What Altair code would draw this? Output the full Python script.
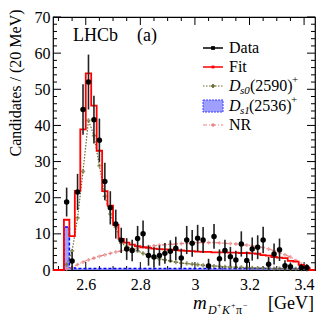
import altair as alt
import pandas as pd

FONT = "Liberation Serif"

# ---- data (20 MeV bins, centres in GeV) ----
centers = [2.53, 2.55, 2.57, 2.59, 2.61, 2.63, 2.65, 2.67, 2.69, 2.71,
           2.73, 2.75, 2.77, 2.79, 2.81, 2.83, 2.85, 2.87, 2.89, 2.91,
           2.93, 2.95, 2.97, 2.99, 3.01, 3.03, 3.05, 3.07, 3.09, 3.11,
           3.13, 3.15, 3.17, 3.19, 3.21, 3.23, 3.25, 3.27, 3.29, 3.31,
           3.33, 3.35, 3.37, 3.39, 3.41]
data_y = [18.8, 2.5, 21.6, 44.4, 52.0, 41.6, 35.9, 24.5, 17.2, 12.7,
          8.2, 5.8, 5.4, 8.7, 10.0, 4.0, 3.6, 4.0, 4.6, 5.2,
          6.0, 3.3, 8.3, 7.4, 8.8, 8.3, 1.1, 9.3, 3.1, 5.4,
          3.7, 2.8, 7.2, 2.6, 5.8, 6.3, 8.3, 1.6, 4.4, 5.6,
          1.2, 0.9, None, 0.7, 0.7]
data_err = [4.0, 2.5, 5.0, 7.0, 7.6, 6.6, 6.0, 5.2, 4.6, 4.0,
            3.5, 3.0, 3.0, 3.5, 3.7, 2.8, 2.7, 2.8, 2.9, 3.0,
            3.2, 2.6, 3.9, 3.7, 3.7, 3.6, 2.0, 3.4, 2.6, 3.0,
            2.7, 2.5, 3.5, 2.5, 3.2, 3.3, 3.7, 2.0, 2.9, 3.1,
            1.5, 1.2, None, 0.9, 0.9]
fit_y = [13.9, 9.4, 21.9, 38.9, 54.4, 45.5, 33.0, 21.8, 17.8, 12.5,
         8.6, 7.6, 7.0, 6.6, 6.3, 6.1, 5.9, 5.8, 5.7, 5.6,
         5.5, 5.4, 5.3, 5.2, 5.1, 5.0, 5.0, 4.9, 4.9, 4.9,
         4.8, 4.8, 4.7, 4.7, 4.6, 4.5, 4.1, 4.0, 3.6, 3.4,
         3.3, 2.5, 2.3, 1.4, 0.6]
ds0_y = [1.5, 5.3, 14.4, 27.3, 41.4, 37.2, 28.9, 20.4, 15.5, 11.8,
         7.4, 6.5, 6.0, 5.3, 4.6, 4.0, 3.5, 3.1, 2.8, 2.5,
         2.2, 1.9, 1.8, 1.6, 1.5, 1.3, 1.2, 1.1, 1.0, 0.9,
         0.8, 0.75, 0.7, 0.65, 0.6, 0.55, 0.5, 0.45, 0.4, 0.38,
         0.35, 0.3, 0.28, 0.25, 0.2]
ds1_y = [11.9, 0.6, 0.4, 0.4, 0.4, 0.4, 0.4, 0.4, 0.4, 0.4,
         0.4, 0.4, 0.4, 0.4, 0.4, 0.4, 0.4, 0.4, 0.4, 0.4,
         0.4, 0.4, 0.4, 0.4, 0.4, 0.4, 0.4, 0.4, 0.4, 0.4,
         0.4, 0.4, 0.4, 0.4, 0.4, 0.4, 0.4, 0.4, 0.4, 0.4,
         0.4, 0.4, 0.4, 0.4, 0.4]
nr_y = [0.2, 0.7, 1.5, 2.2, 2.8, 3.3, 3.8, 4.2, 4.6, 5.0,
        5.3, 5.6, 5.9, 6.1, 6.3, 6.5, 6.7, 6.9, 7.0, 7.1,
        7.2, 7.3, 7.4, 7.5, 7.6, 7.6, 7.6, 7.6, 7.5, 7.4,
        7.3, 7.2, 7.0, 6.9, 6.7, 6.5, 6.2, 5.8, 5.3, 4.8,
        4.2, 3.6, 2.6, 1.6, 0.6]

x_ticks_major = [2.6, 2.8, 3.0, 3.2, 3.4]
x_ticks_minor = [2.5, 2.55, 2.65, 2.7, 2.75, 2.85, 2.9, 2.95, 3.05, 3.1,
                 3.15, 3.25, 3.3, 3.35]
y_ticks_major = [0, 10, 20, 30, 40, 50, 60, 70]
y_ticks_minor = [2, 4, 6, 8, 12, 14, 16, 18, 22, 24, 26, 28, 32, 34, 36, 38,
                 42, 44, 46, 48, 52, 54, 56, 58, 62, 64, 66, 68]

HALF = 0.01
X_MIN, X_MAX = 2.48, 3.44
W, H = 262, 253

xs = alt.Scale(domain=[X_MIN, X_MAX], nice=False, zero=False)
ys = alt.Scale(domain=[0, 70], nice=False)
x_axis = alt.Axis(values=x_ticks_major, format="~g", ticks=False, tickSize=0,
                  domain=False, grid=False, labelFont=FONT, labelFontSize=16,
                  labelColor="black", labelPadding=6, title=None)
y_axis = alt.Axis(values=y_ticks_major, ticks=False, tickSize=0, domain=False,
                  grid=False, labelFont=FONT, labelFontSize=16,
                  labelColor="black", labelPadding=3, title=None)

df = pd.DataFrame({"c": centers, "y": data_y, "e": data_err,
                   "fit": fit_y, "ds0": ds0_y, "ds1": ds1_y, "nr": nr_y})
df["lo"] = df["c"] - HALF
df["hi"] = df["c"] + HALF
dd = df.dropna(subset=["y"]).copy()
dd["ylo"] = (dd["y"] - dd["e"]).clip(lower=0)
dd["yhi"] = dd["y"] + dd["e"]


def step_frame(col):
    rows = [(X_MIN, 0.0), (centers[0] - HALF, 0.0)]
    for c, v in zip(centers, df[col]):
        rows.append((c - HALF, v))
        rows.append((c + HALF, v))
    rows.append((centers[-1] + HALF, 0.0))
    rows.append((X_MAX, 0.0))
    return pd.DataFrame({"x": [r[0] for r in rows], "v": [r[1] for r in rows],
                         "o": list(range(len(rows)))})


fit_steps = step_frame("fit")
ds1_steps = step_frame("ds1")


def X(f):
    return alt.X(f, scale=xs, axis=x_axis)


def Y(f):
    return alt.Y(f, scale=ys, axis=y_axis)


ds1_rect = alt.Chart(df).mark_rect(fill="#8080ff", opacity=0.75).encode(
    x=X("lo:Q"), x2="hi:Q", y=Y("ds1:Q"), y2=alt.datum(0))
ds1_line = alt.Chart(ds1_steps).mark_line(color="#0000ff", strokeWidth=1.5,
                                          strokeDash=[3, 2]).encode(
    x=X("x:Q"), y=Y("v:Q"), order="o:Q")

nr_line = alt.Chart(df).mark_line(color="#e88080", strokeWidth=1.2,
                                  strokeDash=[4, 2, 1, 2]).encode(
    x=X("c:Q"), y=Y("nr:Q"))
nr_pts = alt.Chart(df).mark_point(shape="cross", size=14, filled=True,
                                  color="#e88080").encode(x=X("c:Q"), y=Y("nr:Q"))

ds0_line = alt.Chart(df).mark_line(color="#6b6b30", strokeWidth=1.2,
                                   strokeDash=[1.5, 1.5]).encode(
    x=X("c:Q"), y=Y("ds0:Q"))
ds0_pts = alt.Chart(df).mark_point(shape="cross", size=18, filled=True,
                                   color="#6b6b30").encode(x=X("c:Q"), y=Y("ds0:Q"))

fit_line = alt.Chart(fit_steps).mark_line(color="#ff0000", strokeWidth=1.8).encode(
    x=X("x:Q"), y=Y("v:Q"), order="o:Q")

err = alt.Chart(dd).mark_rule(color="#222222", strokeWidth=1.6).encode(
    x=X("c:Q"), y=Y("ylo:Q"), y2="yhi:Q")
pts = alt.Chart(dd).mark_point(shape="circle", size=30, filled=True,
                               color="black", opacity=1).encode(x=X("c:Q"), y=Y("y:Q"))


def tick_layers():
    out = []
    for vals, ln in ((x_ticks_major, 8), (x_ticks_minor, 4)):
        t = pd.DataFrame({"v": vals})
        out.append(alt.Chart(t).mark_rule(color="black", strokeWidth=1).encode(
            x=X("v:Q"), y=alt.value(H), y2=alt.value(H - ln)))
        out.append(alt.Chart(t).mark_rule(color="black", strokeWidth=1).encode(
            x=X("v:Q"), y=alt.value(0), y2=alt.value(ln)))
    for vals, ln in ((y_ticks_major, 8), (y_ticks_minor, 4)):
        t = pd.DataFrame({"v": vals})
        out.append(alt.Chart(t).mark_rule(color="black", strokeWidth=1).encode(
            y=Y("v:Q"), x=alt.value(0), x2=alt.value(ln)))
        out.append(alt.Chart(t).mark_rule(color="black", strokeWidth=1).encode(
            y=Y("v:Q"), x=alt.value(W), x2=alt.value(W - ln)))
    return out


one = pd.DataFrame({"a": [0]})


def txt(s, x, y, size=16, style="normal", align="left", baseline="middle",
        angle=0, color="black"):
    kw = dict(text=s, font=FONT, fontSize=size, fontStyle=style, align=align,
              baseline=baseline, color=color)
    if angle:
        kw["angle"] = angle
    return alt.Chart(one).mark_text(**kw).encode(x=alt.value(x), y=alt.value(y))


def hline(x1, x2, y, color, dash=None, width=1.5):
    kw = dict(color=color, strokeWidth=width)
    if dash:
        kw["strokeDash"] = dash
    return alt.Chart(one).mark_rule(**kw).encode(
        x=alt.value(x1), x2=alt.value(x2), y=alt.value(y))


def mark(x, y, shape, color, size):
    return alt.Chart(one).mark_point(shape=shape, size=size, filled=True,
                                     color=color, opacity=1).encode(
        x=alt.value(x), y=alt.value(y))


LX1, LX2, LXM, LT = 150, 170, 160, 176
rows = [31, 50, 69, 89, 108]
legend = [
    hline(LX1, LX2, rows[0], "black"), mark(LXM, rows[0], "square", "black", 14),
    txt("Data", LT, rows[0]),
    hline(LX1, LX2, rows[1], "#ff0000"), mark(LXM, rows[1], "square", "#ff0000", 8),
    txt("Fit", LT, rows[1]),
    hline(LX1, LX2, rows[2], "#6b6b30", [1.5, 1.5], 1.2),
    mark(LXM, rows[2], "cross", "#6b6b30", 18),
    txt("D", LT, rows[2], style="italic"),
    txt("s0", LT + 11, rows[2] + 5, size=11, style="italic"),
    txt("(2590)", LT + 21, rows[2]),
    txt("+", LT + 63, rows[2] - 6, size=11),
    alt.Chart(one).mark_rect(fill="#8080ff", opacity=0.75, stroke="#0000ff",
                             strokeDash=[2, 1]).encode(
        x=alt.value(LX1), x2=alt.value(LX2), y=alt.value(rows[3] - 6),
        y2=alt.value(rows[3] + 6)),
    txt("D", LT, rows[3], style="italic"),
    txt("s1", LT + 11, rows[3] + 5, size=11, style="italic"),
    txt("(2536)", LT + 20, rows[3]),
    txt("+", LT + 62, rows[3] - 6, size=11),
    hline(LX1, LX2, rows[4], "#e88080", [4, 2, 1, 2], 1.2),
    mark(LXM, rows[4], "cross", "#e88080", 14),
    txt("NR", LT, rows[4]),
]

XT = 140
labels = [
    txt("LHCb", 20, 19, size=18),
    txt("(a)", 84, 19, size=18),
    txt("Candidates / (20 MeV)", -37, 66, size=16, align="center", angle=270),
    txt("m", XT, 292, size=19, style="italic", baseline="alphabetic"),
    txt("D", XT + 15, 297, size=12, style="italic", baseline="alphabetic"),
    txt("+", XT + 24, 291, size=8, baseline="alphabetic"),
    txt("K", XT + 29, 297, size=12, style="italic", baseline="alphabetic"),
    txt("+", XT + 38, 291, size=8, baseline="alphabetic"),
    txt("π", XT + 43, 297, size=12, baseline="alphabetic"),
    txt("−", XT + 50, 291, size=8, baseline="alphabetic"),
    txt("[GeV]", 215, 292, size=18, baseline="alphabetic"),
]

chart = alt.layer(
    *tick_layers(), ds1_rect, ds1_line, nr_line, nr_pts, ds0_line, ds0_pts,
    fit_line, err, pts, *legend, *labels
).properties(
    width=W, height=H,
    autosize=alt.AutoSizeParams(type="none"),
    padding={"left": 45, "top": 9, "right": 9, "bottom": 52},
).configure_view(stroke="black", strokeWidth=1.2)

chart.save("out.html", embed_options={"renderer": "svg", "actions": False})
